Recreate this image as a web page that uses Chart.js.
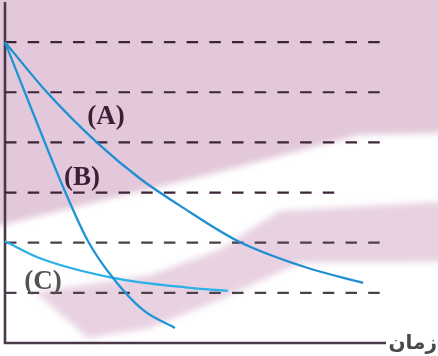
<!DOCTYPE html>
<html>
<head>
<meta charset="utf-8">
<script src="https://cdn.jsdelivr.net/npm/chart.js@4"></script>
<style>
  body { margin: 0; background: #fff; }
  canvas { display: block; }
</style>
</head>
<body>
<canvas id="chart" width="438" height="356"></canvas>
<script>
// values (x in arbitrary time units, y in level units)
const levels = [1, 2, 3, 4, 5, 6];
const levelEnds = [9.87, 9.87, 8.64, 9.87, 9.87, 9.87];

const curveAx = [0, 1.10, 2.41, 3.54, 4.59, 6.12, 7.93, 9.40];
const curveAy = [6, 5.00, 4.00, 3.28, 2.74, 2.03, 1.50, 1.20];

const curveBx = [0, 0.52, 1.23, 1.57, 2.18, 2.83, 3.62, 4.46];
const curveBy = [6, 5.00, 3.65, 3.03, 2.03, 1.30, 0.66, 0.30];

const curveCx = [0, 0.92, 2.83, 4.86, 5.85];
const curveCy = [2.03, 1.69, 1.30, 1.10, 1.04];

const curveLabels = ["(A)", "(B)", "(C)"];
const axisLabel = "زمان";

const pts = (xs, ys) => xs.map((x, i) => ({ x: x, y: ys[i] }));

const ctx = document.getElementById("chart").getContext("2d");

const curveSets = [
  { label: "A", data: pts(curveAx, curveAy), borderColor: "#1f8fd2" },
  { label: "B", data: pts(curveBx, curveBy), borderColor: "#1f94d6" },
  { label: "C", data: pts(curveCx, curveCy), borderColor: "#2cb0e8" }
].map(d => Object.assign(d, {
  showLine: true,
  borderWidth: 2.3,
  pointRadius: 0,
  cubicInterpolationMode: "monotone",
  clip: false,
  order: 0
}));

const dashSets = levels.map((lv, i) => ({
  label: "level " + lv,
  data: [{ x: 0, y: lv }, { x: levelEnds[i], y: lv }],
  showLine: true,
  borderWidth: 2.2,
  borderDash: [11.5, 11.2],
  borderColor: lv <= 2 ? "#4a4248" : "#3d2539",
  pointRadius: 0,
  clip: false,
  order: 1
}));

// scanned page background
const pageBg = {
  id: "pageBg",
  beforeDraw: chart => {
    const c = chart.ctx;
    c.save();
    c.fillStyle = "#ffffff";
    c.fillRect(0, 0, chart.width, chart.height);
    c.filter = "blur(3px)";
    c.fillStyle = "#e2c8da";
    c.beginPath();
    c.moveTo(-10, -10);
    c.lineTo(450, -10);
    c.lineTo(450, 133);
    c.lineTo(359, 135);
    c.lineTo(219, 172);
    c.lineTo(-10, 228);
    c.closePath();
    c.fill();
    c.fillStyle = "#e8d2e2";
    c.beginPath();
    c.moveTo(35, 292);
    c.lineTo(150, 275);
    c.lineTo(219, 250);
    c.lineTo(279, 211);
    c.lineTo(450, 201);
    c.lineTo(450, 262);
    c.lineTo(300, 263);
    c.lineTo(219, 300);
    c.lineTo(150, 328);
    c.lineTo(88, 338);
    c.closePath();
    c.fill();
    c.restore();
  }
};

// axes and text
const axesAndText = {
  id: "axesAndText",
  beforeDatasetsDraw: chart => {
    const c = chart.ctx;
    const a = chart.chartArea;
    const x0 = chart.scales.x.getPixelForValue(0);
    const y0 = chart.scales.y.getPixelForValue(0);
    c.save();
    c.strokeStyle = "#4a3a47";
    c.lineWidth = 2.6;
    c.beginPath();
    c.moveTo(x0, a.top);
    c.lineTo(x0, y0);
    c.lineTo(a.right, y0);
    c.stroke();
    c.restore();
  },
  afterDatasetsDraw: chart => {
    const c = chart.ctx;
    const xs = chart.scales.x;
    const ys = chart.scales.y;
    const spots = [[2.65, 4.36], [2.02, 3.16], [1.0, 1.08]];
    c.save();
    c.font = "bold 27px 'Liberation Serif', 'DejaVu Serif', serif";
    c.textAlign = "center";
    c.textBaseline = "alphabetic";
    curveLabels.forEach((t, i) => {
      c.fillStyle = i === 2 ? "#555255" : "#3a1f35";
      c.fillText(t, xs.getPixelForValue(spots[i][0]), ys.getPixelForValue(spots[i][1]));
    });
    c.font = "bold 20px 'DejaVu Sans', sans-serif";
    c.fillStyle = "#4a4a4a";
    c.textAlign = "right";
    c.textBaseline = "middle";
    c.fillText(axisLabel, chart.width - 1, ys.getPixelForValue(0) + 1);
    c.restore();
  }
};

new Chart(ctx, {
  type: "scatter",
  data: { datasets: curveSets.concat(dashSets) },
  plugins: [pageBg, axesAndText],
  options: {
    responsive: false,
    animation: false,
    layout: { padding: { left: 5, right: 52, top: 2, bottom: 13 } },
    plugins: { legend: { display: false }, tooltip: { enabled: false } },
    scales: {
      x: { type: "linear", min: 0, max: 10, display: false },
      y: { min: 0, max: 6.8, display: false }
    }
  }
});
</script>
</body>
</html>
